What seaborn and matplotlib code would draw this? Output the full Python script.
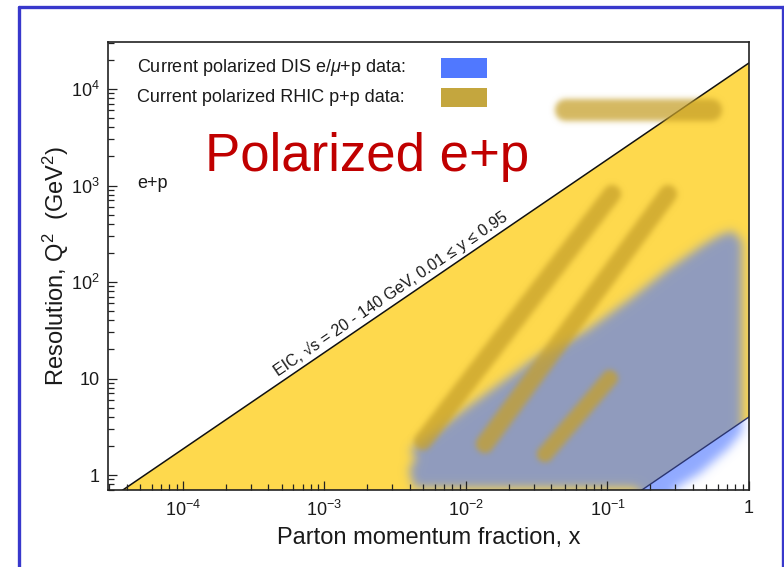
import numpy as np
import pandas as pd
import matplotlib
matplotlib.use("Agg")
import matplotlib.pyplot as plt
import seaborn as sns
from matplotlib.path import Path
from matplotlib.patches import Rectangle
from matplotlib.lines import Line2D

# ---- EIC kinematic reach: Q^2 = x * s * y ----
sqrt_s_low = 20.0      # GeV
sqrt_s_high = 140.0    # GeV
y_low = 0.01
y_high = 0.95

# ---- current polarized DIS (e/mu+p) coverage outline in (x, Q^2) ----
dis_x = [0.00429, 0.150, 0.253, 0.451, 0.715, 0.892, 0.892, 0.771, 0.624,
         0.451, 0.263, 0.151, 0.0716, 0.0298, 0.0102, 0.00402, 0.00443, 0.00396]
dis_q2 = [0.735, 0.735, 0.62, 1.05, 1.90, 2.80, 260.0, 338.0, 307.0,
          231.0, 133.0, 70.0, 31.8, 15.6, 5.07, 1.82, 1.50, 1.13]

# ---- current polarized RHIC p+p coverage: bands from (x0, Q0^2) to (x1, Q1^2) ----
rhic_x_start = [0.0509, 0.00497, 0.0136, 0.0362]
rhic_q2_start = [6060.0, 2.25, 2.10, 1.65]
rhic_x_end = [0.539, 0.1076, 0.268, 0.104]
rhic_q2_end = [6060.0, 817.0, 817.0, 10.1]
rhic_band_px = [22, 18, 18, 16]

# ---- axes ----
x_limits = (10 ** -4.53, 1.0)
q2_limits = (10 ** -0.155, 10 ** 4.487)
x_ticks = [1e-4, 1e-3, 1e-2, 1e-1, 1.0]
x_tick_labels = [r"$10^{-4}$", r"$10^{-3}$", r"$10^{-2}$", r"$10^{-1}$", "1"]
q2_ticks = [1.0, 10.0, 100.0, 1000.0, 1e4]
q2_tick_labels = ["1", "10", r"$10^{2}$", r"$10^{3}$", r"$10^{4}$"]

legend_labels = [r"Current polarized DIS e/$\mathit{\mu}$+p data:",
                 "Current polarized RHIC p+p data:"]

yellow = "#FED94D"
dis_blue = "#5078FF"
rhic_gold = "#C6A02A"

sns.set_theme(style="ticks")
plt.rcParams["font.family"] = ["Liberation Sans", "DejaVu Sans"]
plt.rcParams["mathtext.fontset"] = "custom"
plt.rcParams["mathtext.rm"] = "Liberation Sans"
plt.rcParams["mathtext.it"] = "Liberation Sans:italic"
plt.rcParams["mathtext.default"] = "regular"

fig = plt.figure(figsize=(7.84, 5.67), dpi=100)
fig.patch.set_facecolor("white")
ax = fig.add_axes([108 / 784, 1 - 490 / 567, 641 / 784, 448 / 567])
ax.set_xscale("log")
ax.set_yscale("log")
ax.set_xlim(*x_limits)
ax.set_ylim(*q2_limits)
ax.set_facecolor("white")

# ---- EIC region between the two kinematic limits ----
xs = np.logspace(np.log10(x_limits[0]), 0, 400)
q2_upper = xs * sqrt_s_high ** 2 * y_high
q2_lower = xs * sqrt_s_low ** 2 * y_low
ax.fill_between(xs, q2_lower, q2_upper, color=yellow, lw=0, zorder=1)

limits = pd.DataFrame({"x": np.concatenate([xs, xs]),
                       "Q2": np.concatenate([q2_upper, q2_lower]),
                       "edge": ["upper"] * len(xs) + ["lower"] * len(xs)})
sns.lineplot(data=limits[limits.edge == "upper"], x="x", y="Q2", color="#111111",
             lw=1.1, ax=ax, zorder=2.2, sort=False)
sns.lineplot(data=limits[limits.edge == "lower"], x="x", y="Q2", color="#2B3570",
             lw=1.0, ax=ax, zorder=2.2, sort=False)

# ---- soft-edged data layers, rasterised on a log-uniform grid ----
bbox = ax.get_window_extent()
W = int(round(bbox.width))
H = int(round(bbox.height))
lx0, lx1 = np.log10(x_limits[0]), np.log10(x_limits[1])
lq0, lq1 = np.log10(q2_limits[0]), np.log10(q2_limits[1])


def to_grid(x, q):
    x = np.asarray(x, float)
    q = np.asarray(q, float)
    return ((np.log10(x) - lx0) / (lx1 - lx0) * W,
            (np.log10(q) - lq0) / (lq1 - lq0) * H)


gx, gy = np.meshgrid(np.arange(W) + 0.5, np.arange(H) + 0.5)


def blur(a, sigma):
    r = int(3 * sigma)
    k = np.exp(-0.5 * (np.arange(-r, r + 1) / sigma) ** 2)
    k /= k.sum()
    p = np.pad(a, r, mode="edge")
    p = np.apply_along_axis(lambda v: np.convolve(v, k, mode="valid"), 0, p)
    p = np.apply_along_axis(lambda v: np.convolve(v, k, mode="valid"), 1, p)
    return p


def rgba_layer(alpha, color):
    out = np.zeros((H, W, 4))
    out[..., :3] = matplotlib.colors.to_rgb(color)
    out[..., 3] = np.clip(alpha, 0, 1)
    return out


x_edges = 10 ** np.linspace(lx0, lx1, W + 1)
q_edges = 10 ** np.linspace(lq0, lq1, H + 1)

# DIS coverage
px, py = to_grid(dis_x, dis_q2)
dis_mask = Path(np.c_[px, py]).contains_points(
    np.c_[gx.ravel(), gy.ravel()]).reshape(H, W).astype(float)
dis_alpha = 0.63 * blur(dis_mask, 5.0)
ax.pcolormesh(x_edges, q_edges, rgba_layer(dis_alpha, dis_blue),
              shading="flat", zorder=2, rasterized=True)

# RHIC coverage bands
rhic_mask = np.zeros((H, W))
for xa, qa, xb, qb, wpx in zip(rhic_x_start, rhic_q2_start, rhic_x_end,
                               rhic_q2_end, rhic_band_px):
    (ax0, ay0), (bx0, by0) = to_grid(xa, qa), to_grid(xb, qb)
    dx, dy = bx0 - ax0, by0 - ay0
    t = np.clip(((gx - ax0) * dx + (gy - ay0) * dy) / (dx * dx + dy * dy), 0, 1)
    d = np.hypot(gx - (ax0 + t * dx), gy - (ay0 + t * dy))
    rhic_mask = np.maximum(rhic_mask, (d <= wpx / 2).astype(float))
rhic_alpha = 0.74 * blur(rhic_mask, 2.8)
ax.pcolormesh(x_edges, q_edges, rgba_layer(rhic_alpha, rhic_gold),
              shading="flat", zorder=2.3, rasterized=True)

# ---- axis styling ----
ax.set_axisbelow(False)
for s in ax.spines.values():
    s.set_color("#222222")
    s.set_linewidth(1.2)
    s.set_zorder(2.5)
ax.set_xticks(x_ticks)
ax.set_xticklabels(x_tick_labels)
ax.set_yticks(q2_ticks)
ax.set_yticklabels(q2_tick_labels)
ax.xaxis.set_minor_locator(matplotlib.ticker.LogLocator(base=10, subs=np.arange(2, 10), numticks=20))
ax.yaxis.set_minor_locator(matplotlib.ticker.LogLocator(base=10, subs=np.arange(2, 10), numticks=20))
ax.xaxis.set_minor_formatter(matplotlib.ticker.NullFormatter())
ax.yaxis.set_minor_formatter(matplotlib.ticker.NullFormatter())
ax.tick_params(which="both", direction="in", top=False, right=False,
               color="#222222", width=0.9, labelsize=13, labelcolor="#1a1a1a")
ax.tick_params(which="major", length=6.5)
ax.tick_params(which="minor", length=4)
ax.tick_params(axis="x", which="major", pad=7)
ax.tick_params(axis="y", which="major", pad=6)
ax.set_xlabel("Parton momentum fraction, x", fontsize=17, color="#1a1a1a", labelpad=5)
ax.set_ylabel(r"Resolution, Q$^2$  (GeV$^2$)", fontsize=17, color="#1a1a1a", labelpad=0)

# ---- annotations ----
xc = 0.00325
qc = xc * sqrt_s_high ** 2 * y_high
p1 = ax.transData.transform((1e-4, 1e-4 * sqrt_s_high ** 2 * y_high))
p2 = ax.transData.transform((1e-1, 1e-1 * sqrt_s_high ** 2 * y_high))
theta = np.degrees(np.arctan2(p2[1] - p1[1], p2[0] - p1[0]))
off = 6.5
ax.annotate(r"EIC, √s = 20 - 140 GeV, 0.01 ≤ y ≤ 0.95", xy=(xc, qc),
            xytext=(-np.sin(np.radians(theta)) * off, np.cos(np.radians(theta)) * off),
            textcoords="offset pixels", rotation=theta, rotation_mode="anchor",
            ha="center", va="baseline", fontsize=11.5, color="#1a1a1a", zorder=3)

ax.text((137 - 108) / 641, (490 - 183) / 448, "e+p", transform=ax.transAxes,
        fontsize=13, color="#1a1a1a", ha="left", va="center", zorder=3)
ax.text((205 - 108) / 641, (490 - 171) / 448, "Polarized e+p", transform=ax.transAxes,
        fontsize=38, color="#C00000", ha="left", va="baseline", zorder=3)

legend_colors = [dis_blue, "#C4A63E"]
legend_rows = [68, 97]
for lab, col, yr in zip(legend_labels, legend_colors, legend_rows):
    ax.text((137 - 108) / 641, (490 - yr) / 448, lab, transform=ax.transAxes,
            fontsize=13, color="#1a1a1a", ha="left", va="center", zorder=3)
    ax.add_patch(Rectangle(((441 - 108) / 641, (490 - yr - 9.5) / 448), 46 / 641, 19 / 448,
                           transform=ax.transAxes, facecolor=col, edgecolor="none",
                           zorder=3))

# ---- slide frame ----
frame_kw = dict(color="#3838CC", lw=2.4, transform=fig.transFigure, zorder=10)
fig.add_artist(Line2D([18.5 / 784, 18.5 / 784], [-0.01, 1 - 7 / 567], **frame_kw))
fig.add_artist(Line2D([18.5 / 784, 782.5 / 784], [1 - 7 / 567, 1 - 7 / 567], **frame_kw))
fig.add_artist(Line2D([782.5 / 784, 782.5 / 784], [-0.01, 1 - 7 / 567], **frame_kw))

fig.savefig("out.png", dpi=100, facecolor="white")
